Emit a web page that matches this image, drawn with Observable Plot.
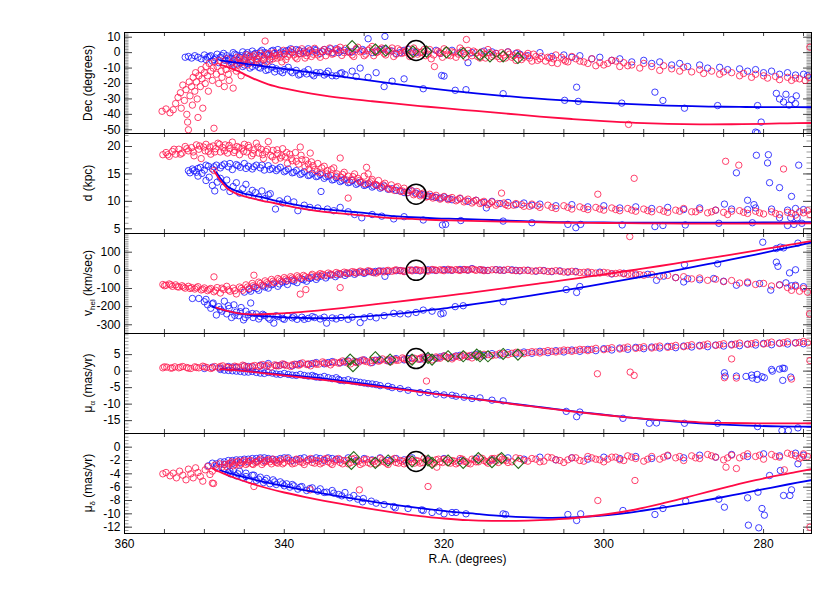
<!DOCTYPE html>
<html><head><meta charset="utf-8">
<script src="https://cdn.jsdelivr.net/npm/d3@7"></script>
<script src="https://cdn.jsdelivr.net/npm/@observablehq/plot@0.6"></script>
<style>
body{margin:0;background:#fff;}
#chart{position:relative;width:830px;height:593px;overflow:hidden;background:#fff;font-family:"Liberation Sans",Arial,Helvetica,sans-serif;color:#000;}
.panel{position:absolute;left:0;}
.ylab{position:absolute;font-size:12px;line-height:1;white-space:nowrap;transform:translate(-50%,-50%) rotate(-90deg);}
.ylab sub{font-size:8px;vertical-align:-3px;line-height:0;}
.xlab{position:absolute;font-size:12px;line-height:14px;white-space:nowrap;transform:translateX(-50%);}
</style></head>
<body><div id="chart"></div>
<script>
// ---- axis / tick data ----
const raDomain = [360, 274];
const raTickLabels = [360, 340, 320, 300, 280];
const raMinorTicks = [360,355,350,345,340,335,330,325,320,315,310,305,300,295,290,285,280,275];
const decTicks = [10, 0, -10, -20, -30, -40, -50];
const distTicks = [20, 15, 10, 5];
const vhelTicks = [100, 0, -100, -200, -300];
const pmraTicks = [5, 0, -5, -10, -15];
const pmdecTicks = [0, -2, -4, -6, -8, -10, -12];
const yLabels = ["Dec (degrees)", "d (kpc)", "v<sub>hel</sub> (km/sec)", "&mu;<sub>&alpha;</sub> (mas/yr)", "&mu;<sub>&delta;</sub> (mas/yr)"];
const xLabel = "R.A. (degrees)";

// ---- reference marker (black circle) ----
const circleRA = 323.5;
const circleVals = [1.4, 11.3, 0, 3.8, -2.15];

// ---- Panel 1: Dec ----
const decRed = [[355.3,-38],[354.8,-36.5],[354.3,-39],[353.9,-37],[353.6,-33],[353.3,-29],[353.0,-26],[352.9,-36],[352.7,-21],[352.5,-31],[352.3,-24],[352.2,-40],[352.1,-45],[352.0,-50],[351.9,-19],[351.8,-28],[351.6,-22],[351.5,-34],[351.4,-16],[351.2,-25],[351.1,-13],[351.0,-19],[350.9,-30],[350.8,-42],[350.7,-15],[350.5,-22],[350.4,-11],[350.3,-17],[350.2,-36],[350.0,-13],[349.9,-20],[349.8,-9],[349.6,-15],[349.5,-25],[349.4,-7],[349.2,-12],[349.0,-18],[348.9,-10],[348.8,-49],[348.7,-6],[348.5,-14],[348.4,-9],[348.2,-20],[348.1,-5],[347.9,-12],[347.8,-16],[347.6,-8],[347.5,-22],[347.3,-11],[347.2,-4],[347.0,-14],[346.9,-18],[346.7,-7],[346.5,-10],[346.4,-23],[346.2,-5],[346.0,-12],[345.8,-8],[345.6,-4],[345.4,-15],
[345.2,-6],[344.9,-3.5],[344.6,-8],[344.3,-2.5],[344.0,-5],[343.7,-1.5],[343.4,-4],[343.1,-7],[342.8,-2],[342.5,-3.5],[342.4,7.5],[342.1,-1],[341.8,-5],[341.5,-2.5],[341.2,0],[340.9,-3.5],[340.6,-1.5],[340.3,-6],[340.0,-0.5],[339.6,-2.5],[339.2,0.5],[338.8,-1.5],[338.4,-4],[338.0,1],[337.6,-0.5],[337.2,-2],[336.8,1.5],[336.4,-1],[336.0,0],[335.5,-3],[335.0,2],[334.5,0.5],[334.0,-1],[333.5,1.5],[333.0,3.5],[332.5,0],[332.0,1],[331.5,-1.5],[331.0,2.5],[330.5,0.5],[330.0,-2],[329.5,1.5],[329.0,4],[328.5,0],[328.0,2],[327.5,-0.5],[327.0,1],[326.5,3],[326.0,-1],[325.5,1.5],[325.0,0],[324.5,2.5],[324.0,-1.5],[323.5,1],[323.0,0],[322.5,2],[322.0,-1],[321.6,-4],[321.2,-9],[320.8,1],[320.4,-0.5],[320.0,2.5],[319.5,-1.5],[319.0,0.5],[318.5,-3],[318.0,3],[317.5,-0.5],[317.2,8.5],[317.0,1.5],[316.5,-2],[316.0,0],[315.5,-3.5],[315.0,-1],[314.5,2],[314.0,-2.5],[313.5,-0.5],[313.0,-4],[312.5,-1.5],[312.0,0.5],[311.5,-3],[311.0,-5],[310.5,-1.5],[310.0,-3],[309.5,-0.5],[309.0,-5.5],[308.5,-2.5],[308.0,-4],[307.0,-3],[306.5,-6.5],[306.0,-1.5],[305.0,-4.5],[304.5,-6],[304.0,-2.5],[303.0,-5.5],[302.0,-7],[301.5,-4],[300.5,-6.5],[300.0,-8],[299.0,-5],[298.0,-9],[297.5,-6.5],[296.9,-46.5],[296.5,-8],[295.5,-10],[295.0,-7],[294.0,-9],[293.0,-11.5],[292.5,-8.5],[291.5,-10.5],[290.5,-12],[290.0,-9.5],[289.0,-12.5],[288.0,-11],[287.5,-13.5],[286.5,-12],[285.5,-14],[285.0,-12.5],[284.0,-13],[283.0,-15],[282.5,-13.5],[281.5,-16],[281.0,-14],[280.0,-15],[279.5,-16.5],[278.5,-15.5],[278.0,-17.5],[277.0,-16],[276.5,-18],[276.0,-16.5],[275.5,-17],[274.8,-18],[274.3,-16],[274.2,3.5]];
const decRedDense = [[345.9,-3],[345.5,-7],[345.1,-4.5],[344.7,-1.5],[344.2,-6.5],[343.9,-2.8],[343.5,-5.5],[343.0,-0.5],[342.6,-4.5],[342.2,-6],[341.9,-0.5],[341.4,-4],[341.0,-1.8],[340.5,-3],[340.1,1.5],[339.8,-4.5],[339.4,-1],[339.0,2],[338.6,-3],[338.2,-0.8],[337.8,2.5],[337.4,-3.5],[337.0,0.5],[336.6,-2.5],[336.2,2.8],[335.8,-1.5],[335.3,1],[334.8,-2],[334.3,3],[333.8,-0.5],[333.3,2],[332.8,-1.8],[332.3,2.8],[331.8,0],[331.3,-2.5],[330.8,3.5],[330.3,1],[329.8,-1],[329.3,2.5],[328.8,-2],[328.3,0.5],[327.8,3],[327.3,-1.5],[326.8,1.5],[326.3,-2.5],[325.8,2.5],[325.3,-0.5],[324.8,1],[324.3,-2.5],[323.8,3],[323.3,-1],[322.8,0.5],[322.3,-2],[321.8,2],[321.3,-1.5],[320.6,0],[320.2,-3],[319.7,1.5],[319.2,-2],[318.7,0],[318.2,-1],[317.7,1.5],[317.3,-3],[316.8,-0.5],[316.3,1],[315.8,-2.5],[315.3,0.5],[314.8,-3.5],[314.3,0],[313.8,-1.5],[313.3,-2.5],[312.8,0],[312.3,-3.5],[311.8,-1],[311.3,-2],[310.8,0],[310.3,-4.5],[309.8,-2],[309.3,-3.5],[308.8,-1],[308.3,-5],[307.8,-2.5],[307.3,-5.5],[306.8,-3.5],[306.3,-4],[305.8,-7],[305.3,-3],[304.8,-5.5],[303.5,-4],[302.5,-6],[301.0,-8.5],[299.5,-7],[298.5,-5.5],[297.0,-8.5]];
const decBlue = [[352.4,-3],[352.0,-2.5],[351.6,-3.5],[351.2,-2],[350.8,-3],[350.4,-4],[350.0,-1.5],[349.6,-3],[349.2,-2],[348.8,-4.5],[348.4,-1],[348.0,-3],[347.6,-0.5],[347.2,-2],[346.8,-4],[346.4,0],[346.0,-1.5],[345.6,-3],[345.2,0.5],[344.8,-1],[344.4,-2.5],[344.0,1],[343.6,-0.5],[343.2,-2],[342.8,1.5],[342.4,0],[342.0,-1.5],[341.6,1],[341.2,-0.5],[340.8,2],[340.4,0.5],[340.0,-1],[339.5,1.5],[339.0,0],[338.5,2],[338.0,-0.5],[337.5,1],[337.0,2.5],[336.5,0.5],[336.0,1.5],[335.5,-0.5],[335.0,2],[334.5,1],[334.0,0],[333.5,2.5],[333.0,1],[332.0,0.5],[331.0,2],[330.5,-10],[330.0,1],[329.5,9],[329.0,0],[328.0,2],[327.4,10.5],[327.0,1],[326.0,-0.5],[325.0,1.5],[324.0,0.5],[322.0,1],[320.5,-0.5],[319.0,1.5],[317.0,-6.5],[316.5,0],[315.0,1],[313.5,-0.5],[312.0,0.5],[310.5,-1],[309.5,-2],[308.0,0],[306.5,-2.5],[305.0,-1.5],[304.0,-3],[303.0,-2],[301.5,-4],[300.5,-3],[299.0,-5],[298.0,-4],[296.5,-6],[295.0,-5],[294.0,-7],[293.0,-6],[291.5,-8],[290.5,-7],[289.5,-9],[288.0,-8],[287.0,-10],[285.5,-9.5],[284.5,-11],[283.0,-10.5],[282.0,-12],[281.0,-11],[280.0,-13],[279.0,-12],[278.0,-14],[277.0,-13],[276.0,-14.5],[275.0,-14],[274.5,-15],
[349.0,-5.5],[348.2,-6.5],[347.4,-5],[346.6,-6.8],[345.8,-5.2],[345.0,-6],[344.2,-4.8],[343.4,-6.3],[342.6,-5],[341.8,-4.2],
[347.0,-5],[346.5,-6],[346.0,-7.5],[345.5,-6.5],[345.0,-8],[344.5,-7],[344.0,-9],[343.5,-8],[343.0,-10],[342.5,-8.5],[342.0,-11],[341.5,-9.5],[341.0,-10.5],[340.5,-12],[340.0,-11],[339.5,-9.5],[339.0,-13],[338.5,-11.5],[338.0,-14],[337.5,-12.5],[337.0,-11],[336.5,-14],[336.0,-13],[335.0,-14.5],[334.5,-12],[334.0,-15],[333.0,-13.5],[332.4,-14.3],[331.5,-12],[331.0,-15.5],[329.5,-16],[328.5,-13],[327.5,-22],[326.5,-18.5],[325.0,-17],[322.6,-23.4],[320.3,-14.8],[320.0,-15.2],[318.6,-24.4],[317.25,-24],[312.6,-26.6],[304.9,-30.9],[303.4,-22.4],[303.2,-31.6],[297.75,-32.7],[293.6,-25.6],[292.6,-31],[289.9,-36],[285.75,-34.3],[281.0,-51.5],[280.8,-52],[280.3,-45],[280.75,-34.3],[278.4,-26.4],[278.0,-30],[277.5,-32],[277.2,-27],[276.8,-34],[276.5,-30.5],[276.0,-33],[275.9,-28]];
const decBlueDense = [[349.8,-4.5],[349.4,-2.5],[348.6,-3.5],[347.8,-2],[347.0,-3.5],[346.2,-1],[345.4,-2],[344.6,0],[343.8,-1],[343.0,0.5],[342.2,-0.5],[341.4,1.5],[340.6,-0.5],[339.8,1],[339.2,2.5],[338.2,1.5],[337.2,0],[336.2,2],[335.2,0.5],[334.2,2.5],[333.2,0],[332.5,1.5],[331.5,0.5],[330.2,2],[328.5,1],[327.5,2.5],[326.5,1],[325.5,0],[324.5,2],[323.5,0],[321.0,1.5],[318.0,0],[314.0,0.5],[311.0,-0.5],[346.3,-8],[345.2,-9],[344.3,-10],[343.2,-9.5],[342.3,-11.5],[341.2,-12.5],[340.2,-13],[339.2,-12],[338.2,-14.5],[337.2,-13.8],[336.3,-15],[335.5,-13],[334.7,-13.5],[333.5,-15],[332.8,-13]];
const decLineBlue = [[348,-5],[347,-5.8],[345,-7.1],[343,-8.5],[340,-10.5],[337,-12.6],[334,-14.7],[331,-16.8],[328,-18.9],[325,-21],[322,-23],[319,-24.8],[316,-26.4],[313,-27.8],[310,-29.1],[307,-30.3],[304,-31.3],[301,-32.2],[298,-33],[295,-33.7],[292,-34.3],[289,-34.7],[286,-35],[283,-35.2],[280,-35.3],[277,-35.35],[274,-35.4]];
const decLineRed = [[348,-8],[347,-9.5],[346,-11.5],[344,-16.5],[342,-20.5],[340,-23.2],[338,-25.3],[335,-27.8],[332,-29.8],[329,-31.5],[326,-33.1],[323,-34.6],[320,-36],[316,-37.8],[312,-39.6],[308,-41.4],[304,-43],[300,-44.4],[296,-45.5],[292,-46.2],[288,-46.5],[284,-46.4],[280,-46.1],[277,-45.8],[274,-45.6]];
const decDiamonds = [[331.5,4.2],[328.6,2.0],[327.3,1.4],[323.9,0.7],[322.2,0.7],[319.7,0.2],[317.6,-0.4],[315.5,-1.5],[314.25,-2.4],[312.6,-2.4],[310.75,-3.5]];

// ---- Panel 2: distance ----
const distRed = [[355.2,18.5],[354.8,18.9],[354.4,18.2],[354.0,19.1],[353.6,18.6],[353.2,19.5],[352.8,18.8],[352.4,20.0],[352.0,19.2],[351.6,19.8],[351.3,18.3],[351.0,20.3],[350.7,19.5],[350.4,17.8],[350.1,19.9],[349.8,20.4],[349.5,19.1],[349.2,18.6],[348.9,20.1],[348.6,19.6],[348.3,20.6],[348.0,19.0],[347.7,19.8],[347.4,20.3],[347.1,18.8],[346.8,19.6],[346.5,20.8],[346.2,19.3],[345.9,20.0],[345.6,18.5],[345.3,19.7],[345.0,20.4],[344.7,19.0],[344.4,19.8],[344.1,18.3],[343.8,19.4],[343.5,20.6],[343.2,18.8],[342.9,19.5],[342.6,17.8],[342.3,19.1],[342.0,20.9],[341.7,18.4],[341.4,19.3],[341.1,17.5],[340.8,18.7],[340.5,17.9],[340.2,19.6],[339.9,18.1],[339.6,16.9],[339.3,18.6],[339.0,17.4],[338.6,18.9],[338.2,16.8],[338.0,19.9],[337.8,17.6],[337.4,16.3],[337.0,16.8],[336.75,18.8],[336.6,17.2],[336.2,15.8],[335.8,16.9],[335.4,15.2],[335.0,16.4],[334.6,15.6],[334.2,14.8],[333.8,16.1],[333.4,15.0],[333.0,17.9],[332.9,14.4],[332.5,15.3],[332.0,10.6],[332.0,14.6],[331.6,13.9],[331.2,15.0],[330.8,14.2],[330.4,13.5],[330.0,14.6],[329.7,16.2],[329.5,15.0],[329.3,13.4],[329.0,14.0],[328.6,13.1],[328.2,13.8],[327.8,12.6],[327.4,13.3],[327.0,12.4],[326.6,13.0],[326.2,12.0],[325.8,12.7],[325.4,11.8],[325.0,12.4],[324.6,11.6],[324.2,12.1],[323.8,11.2],[323.4,11.8],[323.0,11.0],[322.6,11.5],[322.2,10.8],[321.8,11.3],[321.4,10.6],[321.0,11.1],[320.5,10.4],[320.0,10.9],[319.5,10.3],[319.0,10.7],[318.5,10.1],[318.0,10.6],[317.5,9.9],[317.0,10.4],[316.5,9.7],[316.0,10.2],[315.5,9.6],[315.0,10.0],[314.5,9.4],[314.0,9.9],[313.5,9.3],[312.8,11.5],[312.5,9.7],[312.0,9.2],[311.0,9.6],[310.0,9.1],[309.0,9.5],[308.0,8.9],[307.0,9.3],[306.0,8.7],[305.0,9.2],[304.0,8.6],[303.0,9.0],[302.0,8.5],[301.0,8.9],[300.75,11.3],[300.0,8.4],[299.0,8.8],[298.0,8.3],[297.0,8.7],[296.2,14.2],[296.0,8.2],[295.0,8.6],[294.0,8.1],[293.0,8.5],[292.0,8.0],[291.0,8.4],[290.0,8.7],[289.0,8.1],[288.0,8.5],[287.0,7.9],[286.0,8.4],[285.0,8.0],[284.75,17.3],[284.5,7.6],[283.1,16.6],[283.0,8.3],[282.0,7.8],[281.0,8.2],[280.0,7.7],[279.0,8.1],[278.0,7.6],[277.5,15.9],[277.0,8.0],[276.0,7.5],[275.0,7.9],[274.5,8.3],[274.2,7.6],[348.8,15.6]];
const distRedDense = [[354.6,18.5],[353.8,19.5],[353.0,18.6],[352.2,19.6],[351.4,19.0],[350.6,20.1],[349.9,19.2],[349.3,19.9],[348.7,19.0],[348.1,20.4],[347.5,19.2],[346.9,20.2],[346.3,18.9],[345.7,19.8],[345.1,19.1],[344.5,20.2],[343.9,18.7],[343.3,19.9],[342.7,18.5],[342.1,19.5],[341.5,18.1],[340.9,19.4],[340.3,18.3],[339.7,18.9],[339.1,17.8],[338.5,17.3],[337.9,18.4],[337.3,17.5],[336.9,15.9],[336.4,16.5],[335.9,15.4],[335.3,16.1],[334.7,15.0],[334.1,15.8],[333.5,14.6],[332.7,14.9],[332.2,13.9],[331.4,14.5],[330.6,13.8],[329.9,13.2],[329.1,13.7],[328.4,12.9],[327.6,13.0],[326.8,12.2],[326.0,12.5],[325.2,11.9],[324.4,12.0],[323.6,11.4],[322.8,11.3],[322.0,10.9],[321.2,10.8],[320.3,10.6],[319.3,10.5],[318.3,10.3],[317.3,10.1],[316.3,10.0],[315.3,9.8],[314.3,9.6],[313.3,9.6],[312.3,9.4],[311.3,9.3],[310.3,9.4],[309.3,9.1],[308.3,9.2],[306.5,8.9],[304.5,8.9],[302.5,8.7],[300.5,8.6],[298.5,8.5],[296.5,8.4],[294.5,8.3],[292.5,8.2],[290.5,8.2],[288.5,8.1],[286.5,8.1],[284.0,8.2],[282.5,8.0],[280.5,7.9],[278.5,7.8],[276.5,7.8],[275.5,8.1]];
const distBlue = [[352.0,15.6],[351.5,15.9],[351.0,15.3],[350.5,16.2],[350.0,15.7],[349.5,16.4],[349.0,15.9],[348.5,16.6],[348.0,16.1],[347.5,16.8],[347.0,16.3],[346.5,15.8],[346.0,16.7],[345.5,16.2],[345.0,16.9],[344.5,16.4],[344.0,15.9],[343.5,16.6],[343.0,16.1],[342.5,15.7],[342.0,16.5],[341.5,16.0],[341.0,15.6],[340.5,16.2],[340.0,15.4],[339.5,15.9],[339.0,15.2],[338.5,15.6],[338.0,14.9],[337.5,15.4],[337.0,14.7],[336.5,15.1],[336.0,14.5],[335.5,14.9],[335.0,14.2],[334.5,14.6],[334.0,13.9],[333.5,14.3],[333.0,13.6],[332.5,14.0],[332.0,13.4],[331.5,13.8],[331.0,13.1],[330.5,13.5],[330.0,12.9],[329.5,13.2],[329.0,12.6],[328.5,13.0],[328.0,12.4],[327.5,12.8],[327.0,12.2],[326.0,12.0],[325.0,11.6],[324.0,11.9],[323.0,11.3],[322.0,11.0],[321.0,10.7],[320.0,10.8],[319.0,10.3],[318.0,10.5],[317.0,10.0],[316.0,10.2],[315.0,9.8],[314.0,10.0],[313.0,9.6],[312.0,9.8],[311.0,9.4],[310.0,9.7],[309.0,9.3],[308.0,9.5],[306.0,9.2],[304.0,9.4],[302.0,9.0],[300.0,9.2],[298.0,8.8],[296.0,9.0],[294.0,8.7],[292.0,8.9],[290.0,8.5],[288.0,8.8],[286.0,8.4],[284.9,9.5],[284.0,8.6],[283.4,15.2],[282.0,10.2],[282.0,8.5],[281.2,9.4],[281.0,8.8],[280.9,18.4],[279.5,17.0],[279.4,18.5],[279.25,13.4],[279.0,8.6],[278.0,12.5],[277.0,8.4],[276.5,10.9],[276.0,8.7],[275.6,16.6],[275.0,8.5],
[351.3,15.6],[350.8,14.6],[350.3,15.1],[349.8,13.8],[349.4,14.4],[349.0,12.9],[348.7,11.9],[348.4,13.5],[348.0,14.2],[347.6,12.6],[347.2,13.9],[346.8,11.8],[346.4,12.7],[346.0,13.4],[345.6,11.5],[345.2,12.3],[344.8,13.1],[344.4,11.2],[344.0,12.0],[343.6,11.6],[343.2,10.8],[342.8,11.9],[342.4,10.5],[342.0,11.2],[341.75,11.4],[341.1,8.6],[340.6,10.1],[340.2,9.7],[339.6,10.4],[338.8,9.9],[338.3,8.3],[337.5,9.3],[336.8,8.9],[335.8,8.8],[335.4,11.8],[334.6,8.6],[333.8,8.3],[333.0,8.9],[332.0,8.1],[331.2,7.6],[330.3,7.0],[329.0,7.6],[327.8,7.3],[326.3,6.8],[325.0,7.2],[322.6,6.6],[320.2,5.7],[319.8,5.8],[317.9,6.5],[314.7,8.8],[312.6,6.4],[309.0,6.1],[304.5,5.8],[303.5,5.2],[302.9,5.8],[297.7,5.7],[293.6,5.4],[292.6,5.6],[289.8,5.7],[285.6,6.0],[281.4,6.1],[278.0,7.0],[277.0,5.6],[276.6,7.0],[276.2,5.8],[275.8,7.0],[275.2,6.0]];
const distBlueDense = [[351.8,15.2],[350.8,16.0],[349.8,16.6],[348.8,16.3],[347.8,16.5],[346.8,16.9],[345.8,16.5],[344.8,16.0],[343.8,16.3],[342.8,16.6],[341.8,15.8],[340.8,15.9],[339.8,15.6],[338.8,15.3],[337.8,15.1],[336.8,14.8],[335.8,14.6],[334.8,14.5],[333.8,14.0],[332.8,13.8],[331.8,13.5],[330.8,13.3],[329.8,13.0],[328.8,12.8],[327.8,12.6],[326.5,12.3],[325.5,11.9],[324.5,11.6],[323.5,11.5],[322.5,11.2],[321.5,10.9],[320.5,10.6],[319.5,10.5]];
const distLineBlue = [[348.5,15.3],[348,14.2],[347,12.6],[346,11.9],[345,11.4],[343,10.8],[341,10.1],[339,9.5],[337,9.0],[335,8.6],[333,8.3],[330,7.9],[327,7.4],[324,7.1],[321,6.9],[318,6.8],[314,6.6],[310,6.4],[305,6.2],[300,6.15],[295,6.1],[290,6.1],[285,6.1],[280,6.15],[274,6.2]];
const distLineRed = [[348.8,15.6],[348,13.8],[347,12.2],[346,11.4],[345,10.9],[343,10.2],[341,9.6],[339,9.0],[337,8.5],[335,8.1],[333,7.8],[330,7.4],[327,7.0],[324,6.8],[321,6.6],[318,6.5],[314,6.35],[310,6.25],[305,6.1],[300,6.05],[295,6.0],[290,5.95],[285,5.95],[280,5.95],[274,6.0]];

// ---- Panel 3: heliocentric velocity ----
const vhelRed = [[355.2,-78],[354.8,-82],[354.4,-75],[354.0,-88],[353.6,-80],[353.2,-92],[352.8,-85],[352.4,-98],[352.0,-88],[351.6,-95],[351.2,-103],[350.8,-90],[350.4,-108],[350.0,-97],[349.6,-112],[349.2,-100],[348.8,-36],[348.8,-118],[348.4,-95],[348.0,-125],[347.6,-105],[347.2,-88],[346.8,-115],[346.4,-98],[346.0,-130],[345.6,-92],[345.2,-110],[344.8,-80],[344.4,-100],[344.0,-72],[343.8,-27],[343.6,-90],[343.2,-65],[342.8,-82],[342.4,-58],[342.0,-75],[341.6,-50],[341.2,-68],[340.8,-45],[340.4,-60],[340.0,-40],[339.6,-55],[339.2,-35],[338.8,-50],[338.4,-30],[338.0,-131],[338.0,-45],[337.6,-28],[337.3,-106],[337.0,-40],[336.5,-22],[336.0,-35],[335.5,-18],[335.0,-30],[334.5,-15],[334.0,-25],[333.5,-12],[333.0,-95],[333.0,-22],[332.5,-10],[332.0,-18],[331.5,-7],[331.0,-15],[330.5,-4],[330.0,-12],[329.5,-2],[329.0,-10],[328.5,-15],[328.0,-3],[327.5,-8],[327.0,0],[326.5,-5],[326.0,3],[325.5,-2],[325.0,-7],[324.5,1],[324.0,-3],[323.5,4],[323.0,-1],[322.5,2],[322.0,-4],[321.5,5],[321.0,0],[320.5,3],[320.0,-2],[319.5,6],[319.0,1],[318.5,4],[318.0,-1],[317.5,5],[317.0,2],[316.5,7],[316.0,0],[315.5,4],[315.0,-2],[314.0,3],[313.0,0],[312.0,5],[311.0,-2],[310.0,1],[309.0,-4],[308.0,0],[307.0,-6],[306.0,-2],[305.0,-9],[304.0,-5],[303.0,-12],[302.0,-8],[301.0,-15],[300.0,-11],[299.0,-18],[298.0,-14],[297.0,-22],[296.75,186],[296.0,-19],[295.0,-27],[294.0,-23],[293.0,-33],[292.0,-28],[291.0,-40],[290.0,-35],[289.0,-47],[288.0,-42],[287.0,-55],[286.0,-49],[285.0,-62],[284.0,-56],[283.0,-70],[282.0,-64],[281.0,-78],[280.0,-72],[279.0,-86],[278.0,-80],[277.0,-95],[276.5,-110],[276.0,-88],[275.5,-115],[275.0,-100],[274.5,-120],[274.25,-240]];
const vhelRedDense = [[355.0,-85],[354.2,-80],[353.4,-90],[352.6,-92],[351.8,-100],[351.0,-96],[350.2,-104],[349.4,-105],[348.6,-110],[347.8,-98],[347.0,-108],[346.2,-112],[345.4,-100],[344.6,-92],[343.9,-85],[343.0,-72],[342.2,-68],[341.4,-60],[340.6,-52],[339.8,-48],[339.0,-42],[338.2,-38],[337.4,-35],[336.6,-30],[335.8,-26],[335.2,-22],[334.2,-20],[333.2,-17],[332.2,-13],[331.2,-10],[330.2,-8],[329.2,-6],[328.2,-8],[327.2,-3],[326.2,-1],[325.2,-2],[324.2,2],[323.2,1],[322.2,-1],[321.2,3],[320.2,1],[319.2,3],[318.2,2],[317.2,3],[316.2,4],[315.2,2],[314.5,0],[313.5,3],[312.5,1],[311.5,0],[310.5,-1],[309.5,-1],[308.5,-3],[307.5,-3],[306.5,-5],[305.5,-5],[304.5,-8],[303.5,-9],[302.5,-11],[301.5,-12],[300.5,-15],[299.5,-14],[298.5,-17],[297.5,-19],[296.5,-22],[295.5,-24]];
const vhelBlue = [[345.0,-120],[344.4,-105],[343.8,-95],[343.2,-110],[342.6,-85],[342.0,-98],[341.4,-75],[340.8,-88],[340.2,-65],[339.6,-78],[339.0,-55],[338.4,-68],[337.8,-48],[337.2,-60],[336.6,-40],[336.0,-50],[335.4,-32],[334.8,-42],[334.2,-25],[333.6,-35],[333.0,-20],[332.4,-28],[331.8,-15],[331.2,-22],[330.6,-10],[330.0,-17],[329.4,-7],[328.8,-13],[328.2,-4],[327.4,-33],[327.0,-8],[326.0,-2],[325.0,-5],[324.0,1],[323.0,-3],[322.0,3],[321.0,-1],[320.0,4],[319.0,0],[318.0,5],[317.0,1],[316.5,10],[315.5,3],[314.5,-1],[313.5,4],[312.5,0],[311.5,3],[310.5,-3],[309.5,1],[308.5,-5],[307.5,-1],[306.5,-7],[305.5,-3],[304.5,-10],[303.5,-6],[302.0,-14],[300.5,-10],[299.0,-20],[297.5,-16],[296.0,-26],[294.5,-22],[293.4,-55],[292.5,-32],[291.0,-40],[290.0,-64],[289.5,-46],[288.0,-52],[286.25,-45],[285.0,-60],[283.4,-82],[282.0,-70],[280.5,-73],[279.1,-109],[278.0,-80],[277.2,-69],[276.5,-85],[276.0,-82],[275.0,-90],
[351.5,-155],[350.7,-155],[350.0,-173],[349.6,-190],[349.2,-209],[348.9,-180],[348.5,-246],[348.2,-200],[347.8,-225],[347.5,-170],[347.2,-240],[346.9,-210],[346.6,-260],[346.3,-190],[346.0,-230],[345.7,-250],[345.4,-205],[345.1,-273],[344.8,-225],[344.5,-245],[344.2,-180],[343.9,-260],[343.5,-240],[343.0,-255],[342.5,-248],[342.0,-262],[341.3,-291],[340.8,-255],[340.2,-265],[339.6,-250],[339.0,-262],[338.4,-270],[337.8,-258],[337.0,-265],[336.2,-260],[335.5,-268],[334.7,-291],[334.0,-262],[332.9,-260],[332.0,-270],[330.5,-288],[329.25,-255],[328.5,-262],[326.3,-237],[324.5,-240],[322.6,-219],[320.4,-240],[320.1,-236],[318.6,-200],[317.6,-195],[312.6,-173],[304.7,-106],[303.4,-122],[303.0,-89],[289.9,31],[285.75,36],[280.1,155],[278.4,45],[278.4,120],[278.2,22],[277.9,128],[277.5,124],[276.75,-14],[276.0,3],[275.7,150]];
const vhelBlueDense = [[349.8,-160],[349.0,-185],[348.0,-215],[347.0,-195],[346.2,-248],[345.5,-228],[344.9,-260],[344.0,-238],[343.2,-268],[342.7,-242],[341.8,-270],[341.0,-250],[340.0,-270],[338.8,-255],[337.5,-270],[336.5,-255],[335.0,-258],[333.5,-268],[331.5,-258],[330.0,-262],[327.5,-250],[325.5,-240],[323.5,-232],[321.5,-225],[344.2,-115],[343.4,-100],[342.4,-92],[341.6,-80],[340.6,-75],[339.8,-62],[338.8,-60],[337.6,-52],[336.8,-45],[335.8,-38],[334.6,-30],[333.4,-25],[332.2,-18],[331.0,-14],[329.8,-10],[328.6,-6],[327.6,-4],[325.5,-1],[323.5,0],[321.5,2],[319.5,2],[317.5,4],[315.0,1],[313.0,2],[311.0,0]];
const vhelLineBlue = [[349,-200],[347.5,-220],[346,-234],[344.4,-245],[342,-254],[340,-259],[338,-262],[335.5,-264],[332,-260],[329,-251],[326,-240],[323,-226],[320,-210],[317,-191],[314,-172],[311,-152],[308,-131],[305,-110],[302,-88],[299,-65],[296,-41],[293,-17],[290,8],[287,34],[284,60],[281,87],[278,115],[276,134],[274,154]];
const vhelLineRed = [[348.5,-205],[347,-225],[345.5,-238],[344,-243],[341,-239],[338,-230],[335,-218],[332,-204],[329,-189],[326,-174],[323,-158],[320,-142],[317,-125],[314,-108],[311,-90],[308,-72],[305,-54],[302,-35],[299,-16],[296,4],[293,24],[290,45],[287,66],[284,87],[281,109],[278,131],[276,146],[274,161]];

// ---- Panel 4: proper motion in RA ----
const pmraRed = [[355.2,1.0],[354.7,1.2],[354.2,0.9],[353.7,1.3],[353.2,1.0],[352.7,1.4],[352.2,1.1],[351.7,0.8],[351.2,1.3],[350.7,1.0],[350.2,1.5],[349.7,1.1],[349.2,0.8],[348.7,1.4],[348.2,1.0],[347.7,1.6],[347.2,1.2],[346.7,0.9],[346.2,1.5],[345.7,1.2],[345.2,1.8],[344.7,1.3],[344.2,1.0],[343.7,1.7],[343.2,1.4],[342.7,2.0],[342.2,1.5],[341.7,1.2],[341.2,1.9],[340.7,1.6],[340.2,2.2],[339.7,1.7],[339.2,1.4],[338.7,2.1],[338.2,1.8],[337.7,2.5],[337.2,2.0],[336.7,1.6],[336.2,2.4],[335.7,2.1],[335.2,2.8],[334.7,2.3],[334.2,1.9],[333.7,2.7],[333.2,2.4],[332.7,3.1],[332.2,2.6],[331.7,2.2],[331.2,3.0],[330.7,2.7],[330.2,3.4],[329.7,2.9],[329.2,2.5],[328.7,3.3],[328.2,3.0],[327.7,3.7],[327.2,3.2],[326.7,2.8],[326.2,3.6],[325.7,3.3],[325.2,4.0],[324.7,3.5],[324.2,3.1],[323.7,3.9],[323.2,3.6],[322.7,4.2],[322.2,-3.0],[322.0,3.8],[321.5,3.4],[321.0,4.3],[320.5,3.9],[320.0,4.6],[319.5,4.1],[319.0,3.7],[318.5,4.5],[318.0,4.2],[317.5,4.9],[317.0,4.4],[316.5,4.0],[316.0,4.8],[315.5,4.5],[315.0,5.1],[314.0,4.7],[313.0,5.4],[312.0,5.0],[311.0,5.7],[310.0,5.3],[309.0,5.9],[308.0,5.5],[307.0,6.2],[306.0,5.8],[305.0,6.4],[304.0,6.0],[303.0,6.6],[302.0,6.2],[301.0,6.9],[300.8,-0.8],[300.0,6.5],[299.0,7.1],[298.0,6.7],[297.0,7.3],[296.7,-0.3],[296.2,-1.3],[296.0,6.9],[295.0,7.4],[294.0,7.0],[293.0,7.6],[292.0,7.2],[291.0,7.8],[290.0,7.4],[289.0,8.0],[288.0,7.6],[287.0,8.2],[286.0,7.8],[285.0,8.3],[284.9,-2.0],[284.0,3.7],[284.0,7.9],[283.4,-2.1],[283.0,8.5],[282.0,8.1],[281.0,8.6],[280.0,8.2],[279.0,8.8],[278.0,8.4],[277.0,8.9],[276.5,-2.4],[276.0,8.5],[275.0,9.0],[274.5,8.6],[274.2,3.2]];
const pmraRedDense = [[355.0,1.3],[354.0,1.0],[353.0,1.2],[352.0,0.9],[351.0,1.1],[350.0,1.3],[349.0,1.0],[348.0,1.4],[347.0,1.1],[346.0,1.3],[345.0,1.5],[344.0,1.5],[343.0,1.6],[342.0,1.8],[341.0,1.6],[340.0,1.9],[339.0,1.9],[338.0,2.0],[337.0,2.2],[336.0,2.1],[335.0,2.5],[334.0,2.5],[333.0,2.7],[332.0,2.9],[331.0,2.6],[330.0,3.1],[329.0,3.2],[328.0,3.2],[327.0,3.5],[326.0,3.3],[325.0,3.7],[324.0,3.8],[323.0,3.9],[322.5,3.6],[321.8,4.1],[320.8,4.0],[319.8,4.4],[318.8,4.2],[317.8,4.6],[316.8,4.7],[315.8,4.6],[314.5,5.0],[313.5,4.9],[312.5,5.3],[311.5,5.4],[310.5,5.5],[309.5,5.6],[308.5,5.8],[307.5,5.9],[306.5,6.0],[305.5,6.1],[304.5,6.3],[303.5,6.3],[302.5,6.5],[301.5,6.6],[299.5,6.8],[297.5,7.0],[295.5,7.1],[293.5,7.3],[291.5,7.5],[289.5,7.7],[287.5,7.9],[285.5,8.0],[283.5,8.2],[281.5,8.3],[279.5,8.5],[277.5,8.6],[275.5,8.7]];
const pmraBlue = [[350.0,0.8],[349.0,1.2],[348.0,0.9],[347.0,1.4],[346.0,1.1],[345.0,1.6],[344.0,1.3],[343.0,1.8],[342.0,2.3],[341.0,1.7],[340.0,2.0],[339.0,1.6],[338.0,2.3],[337.0,2.0],[336.0,2.6],[335.0,2.2],[334.0,2.9],[333.0,2.5],[332.0,3.1],[331.0,2.8],[330.0,3.4],[329.0,2.6],[328.0,3.5],[327.0,3.1],[326.0,3.8],[325.0,3.4],[324.0,4.0],[323.0,3.6],[322.0,4.3],[321.0,3.9],[320.0,4.6],[319.0,4.2],[318.0,4.8],[317.0,4.4],[316.0,5.1],[315.0,4.7],[314.0,5.3],[313.0,4.9],[312.0,5.6],[311.0,5.2],[310.0,5.8],[309.0,5.4],[308.0,6.0],[307.0,5.6],[306.0,6.2],[305.0,5.8],[304.0,6.4],[303.0,6.0],[302.0,6.6],[301.0,6.2],[300.0,6.8],[299.0,6.4],[298.0,7.0],[297.0,6.6],[296.0,7.2],[295.0,6.8],[294.0,7.3],[293.0,7.0],[292.0,7.5],[291.0,7.1],[290.0,7.6],[289.0,7.3],[288.0,7.8],[287.0,7.4],[286.0,7.9],[285.0,7.6],[284.0,8.1],[283.0,7.7],[282.0,8.2],[281.0,7.9],[280.0,8.4],[279.0,8.0],[278.0,8.5],[277.0,8.2],[276.0,8.6],[275.0,8.3],
[348.0,0.5],[347.0,0.2],[346.0,0.0],[345.0,-0.3],[344.0,-0.1],[343.0,-0.6],[342.0,-0.4],[341.0,-0.9],[340.0,-0.7],[339.0,-1.2],[338.0,-1.0],[337.0,-1.5],[336.5,-1.3],[336.0,-1.8],[335.0,-1.6],[334.0,-2.3],[333.5,-2.0],[333.0,-2.8],[332.0,-2.6],[331.0,-3.2],[330.0,-3.6],[329.0,-3.9],[328.0,-4.4],[327.0,-4.6],[325.5,-5.3],[323.0,-6.5],[321.0,-7.0],[319.0,-7.3],[317.5,-7.9],[315.5,-8.1],[312.6,-9.0],[304.7,-12.2],[303.4,-13.8],[303.0,-12.4],[297.6,-14.3],[294.3,-15.8],[293.4,-15.7],[289.9,-15.8],[285.75,-15.8],[280.75,-16.8],[277.7,-18.0],[276.9,-18.0],[275.7,-17.2],
[284.9,-0.5],[284.8,-1.5],[283.4,-1.5],[282.2,-1.6],[281.5,-1.2],[281.4,-2.1],[280.8,-1.0],[280.8,-2.5],[280.2,-1.7],[279.9,-2.0],[279.0,0.5],[278.9,0.0],[278.0,0.6],[277.6,0.9],[277.4,0.8],[277.6,-2.8],[276.6,-1.8]];
const pmraBlueDense = [[346.5,1.2],[344.5,1.4],[342.5,1.5],[340.5,1.8],[338.5,2.0],[336.5,2.3],[334.5,2.6],[332.5,2.8],[330.5,3.1],[328.5,3.3],[326.5,3.5],[324.5,3.8],[322.5,4.0],[320.5,4.3],[318.5,4.6],[316.5,4.8],[347.5,0.3],[346.5,0.1],[345.5,-0.1],[344.5,-0.3],[343.5,-0.4],[342.5,-0.7],[341.5,-0.6],[340.5,-1.0],[339.5,-1.0],[338.5,-1.3],[337.5,-1.3],[336.2,-1.6],[335.5,-1.9],[334.5,-2.0],[333.2,-2.5],[332.5,-2.9],[331.5,-3.0],[330.5,-3.4],[329.5,-3.8],[328.5,-4.1],[326.5,-5.0],[324.5,-5.8],[322.0,-6.5],[320.0,-7.2],[318.5,-7.6],[316.5,-8.3],[314.0,-8.8]];
const pmraLineBlue = [[348,0.6],[345,0.1],[342,-0.6],[339,-1.3],[336,-2.0],[333,-2.9],[330,-3.8],[327,-4.8],[324,-5.8],[321,-6.8],[318,-7.8],[315,-8.7],[312,-9.7],[309,-10.6],[306,-11.5],[303,-12.4],[300,-13.2],[297,-14],[294,-14.7],[291,-15.3],[288,-15.8],[285,-16.2],[282,-16.5],[279,-16.7],[276,-16.8],[274,-16.85]];
const pmraLineRed = [[348,0.6],[345,0.0],[342,-0.8],[339,-1.6],[336,-2.4],[333,-3.3],[330,-4.2],[327,-5.1],[324,-6.0],[321,-7.0],[318,-7.9],[315,-8.8],[312,-9.8],[309,-10.7],[306,-11.6],[303,-12.5],[300,-13.3],[297,-14.0],[294,-14.6],[291,-15.1],[288,-15.5],[285,-15.7],[282,-15.8],[279,-15.85],[276,-15.85],[274,-15.8]];
const pmraDiamonds = [[331.75,3.5],[331.4,1.5],[328.6,4.2],[326.75,3.5],[324,3.5],[322,4.0],[321.5,3.5],[319.5,4.5],[317.6,4.5],[315.9,5.0],[315.5,4.5],[314.5,4.5],[312.6,5.2],[310.75,5.0]];

// ---- Panel 5: proper motion in Dec ----
const pmdecRed = [[355.2,-4.0],[354.8,-3.8],[354.3,-4.3],[353.9,-3.9],[353.5,-4.6],[353.1,-3.6],[352.7,-4.2],[352.3,-4.9],[352.0,-3.3],[351.7,-4.0],[351.4,-4.6],[351.1,-3.1],[350.8,-3.8],[350.5,-4.4],[350.2,-5.1],[349.9,-3.4],[349.6,-2.9],[349.3,-4.1],[349.0,-5.4],[348.85,-5.45],[349.0,-3.6],[348.7,-2.7],[348.4,-3.2],[348.1,-2.5],[347.8,-3.0],[347.5,-2.6],
[347.2,-2.9],[346.8,-2.4],[346.4,-2.8],[346.0,-2.3],[345.6,-2.7],[345.2,-2.2],[344.8,-2.6],[344.4,-2.1],[344.0,-2.5],[343.8,-5.9],[343.6,-2.3],[343.2,-2.0],[342.8,-2.6],[342.4,-2.2],[342.0,-1.9],[341.6,-2.5],[341.2,-2.1],[340.8,-2.4],[340.4,-1.9],[340.0,-2.3],[339.5,-2.0],[339.0,-2.5],[338.5,-1.8],[338.0,-2.2],[337.5,-2.6],[337.0,-1.9],[336.75,-6.4],[336.5,-2.3],[336.0,-2.0],[335.5,-2.5],[335.0,-1.8],[334.5,-2.2],[334.0,-2.6],[333.5,-1.9],[333.0,-2.3],[332.5,-2.0],[332.0,-2.5],[331.5,-1.8],[331.0,-2.2],[330.6,-6.4],[330.5,-2.6],[330.0,-1.9],[329.5,-2.3],[329.0,-2.0],[328.5,-2.5],[328.0,-1.7],[327.5,-2.2],[327.0,-2.6],[326.5,-1.9],[326.0,-2.3],[325.5,-2.0],[325.0,-2.5],[324.5,-1.8],[324.0,-2.2],[323.5,-2.0],[323.0,-2.4],[322.5,-1.7],[322.0,-5.9],[322.0,-2.1],[321.5,-2.5],[321.0,-1.9],[320.9,-3.0],[320.5,-2.2],[320.0,-1.8],[319.5,-2.3],[319.0,-2.0],[318.5,-2.5],[318.0,-1.7],[317.5,-2.1],[317.0,-2.4],[316.5,-1.8],[316.0,-2.2],[315.5,-1.6],[315.0,-2.0],[314.5,-2.4],[314.0,-1.7],[313.5,-2.1],[313.0,-1.5],[312.5,-1.9],[312.0,-2.3],[311.0,-1.6],[310.0,-2.0],[309.0,-1.7],[308.0,-2.2],[307.0,-1.5],[306.0,-1.9],[305.0,-2.3],[304.0,-1.6],[303.0,-2.0],[302.0,-1.4],[301.0,-1.8],[300.75,-8.0],[300.0,-2.2],[299.0,-1.5],[298.0,-1.9],[297.0,-1.3],[296.1,-5.0],[296.0,-1.7],[295.0,-2.1],[294.0,-1.4],[293.0,-1.8],[292.0,-1.2],[291.0,-1.6],[290.0,-2.0],[289.0,-1.3],[288.0,-1.7],[287.0,-1.1],[286.0,-1.5],[285.0,-1.9],[284.7,-3.0],[284.0,-1.2],[283.4,-3.2],[283.0,-1.6],[282.0,-1.0],[281.0,-1.4],[280.0,-1.8],[279.0,-1.1],[278.0,-1.5],[277.4,-3.4],[277.0,-0.9],[276.0,-1.3],[275.5,-1.7],[275.0,-1.0],[274.5,-1.4],[274.2,-12.0]];
const pmdecRedDense = [[347.0,-2.5],[346.6,-2.2],[346.2,-2.6],[345.8,-2.1],[345.4,-2.5],[345.0,-2.0],[344.6,-2.4],[344.2,-2.0],[343.9,-2.6],[343.4,-2.2],[343.0,-1.8],[342.6,-2.3],[342.2,-2.0],[341.8,-2.2],[341.4,-1.8],[341.0,-2.3],[340.6,-2.1],[340.2,-2.5],[339.7,-1.7],[339.2,-2.2],[338.7,-2.4],[338.2,-1.9],[337.7,-2.3],[337.2,-2.1],[336.7,-1.7],[336.2,-2.4],[335.7,-2.1],[335.2,-2.3],[334.7,-1.7],[334.2,-2.4],[333.7,-2.1],[333.2,-1.7],[332.7,-2.5],[332.2,-2.0],[331.7,-2.3],[331.2,-1.7],[330.7,-2.1],[330.2,-2.4],[329.7,-1.8],[329.2,-2.5],[328.7,-2.1],[328.2,-2.3],[327.7,-1.9],[327.2,-2.4],[326.7,-2.1],[326.2,-1.7],[325.7,-2.4],[325.2,-2.1],[324.7,-2.3],[324.2,-1.8],[323.7,-2.4],[323.2,-2.1],[322.7,-2.3],[322.2,-1.9],[321.7,-2.2],[321.2,-2.4],[320.7,-1.8],[320.2,-2.3],[319.7,-1.9],[319.2,-2.4],[318.7,-2.1],[318.2,-2.3],[317.7,-1.8],[317.2,-2.2],[316.7,-2.5],[316.2,-1.9],[315.7,-2.2],[315.2,-1.7],[314.7,-2.2],[314.2,-2.0],[313.7,-1.7],[313.2,-2.3],[312.7,-1.8],[312.2,-2.0],[311.5,-2.2],[310.5,-1.7],[309.5,-2.1],[308.5,-1.8],[307.5,-2.1],[306.5,-1.6],[305.5,-2.0],[304.5,-1.9],[303.5,-1.6],[302.5,-2.1],[301.5,-1.6],[300.5,-1.9],[299.5,-1.8],[298.5,-1.5],[297.5,-2.0],[296.5,-1.5],[294.5,-1.8],[292.5,-1.5],[290.5,-1.4],[288.5,-1.6],[286.5,-1.3],[284.5,-1.6],[282.5,-1.3],[280.5,-1.2],[278.5,-1.4],[276.5,-1.1],[275.2,-1.5]];
const pmdecBlue = [[349.5,-2.8],[349.0,-2.4],[348.5,-2.9],[348.0,-2.2],[347.5,-2.6],[347.0,-2.0],[346.5,-2.4],[346.0,-1.9],[345.5,-2.3],[345.0,-1.8],[344.5,-2.2],[344.0,-1.7],[343.5,-2.1],[343.0,-1.6],[342.5,-2.0],[342.0,-1.7],[341.0,-1.9],[340.0,-1.6],[339.0,-2.0],[338.0,-1.7],[337.0,-1.9],[336.0,-1.6],[335.0,-2.0],[334.0,-1.7],[333.0,-1.9],[332.0,-1.6],[331.0,-2.0],[330.0,-1.7],[329.0,-1.9],[328.0,-1.6],[327.0,-2.0],[326.0,-1.7],[325.0,-1.9],[324.0,-1.6],[322.0,-1.9],[320.0,-1.7],[318.0,-2.0],[316.0,-1.7],[314.0,-1.9],[312.0,-1.6],[310.0,-1.8],[308.0,-1.5],[306.0,-1.9],[304.0,-1.6],[302.0,-1.8],[300.0,-1.5],[298.0,-1.7],[296.0,-1.4],[294.0,-1.7],[292.0,-1.3],[290.0,-1.6],[288.0,-1.2],[286.0,-1.5],[284.0,-1.1],[282.0,-1.4],[280.0,-1.0],[278.0,-1.3],[276.0,-0.9],[275.0,-1.2],
[347.5,-3.2],[347.0,-3.8],[346.75,-4.0],[346.4,-3.4],[346.0,-4.3],[345.6,-3.6],[345.2,-4.6],[344.8,-3.9],[344.4,-4.9],[344.0,-4.2],[343.8,-4.2],[343.5,-5.0],[343.0,-4.5],[342.6,-5.3],[342.2,-4.7],[341.8,-5.5],[341.4,-4.9],[341.0,-5.6],[340.5,-5.2],[340.0,-5.8],[339.7,-5.5],[339.3,-6.0],[338.8,-5.8],[338.3,-6.3],[337.8,-5.9],[337.2,-6.5],[336.5,-6.1],[335.5,-6.25],[335.0,-6.8],[334.7,-6.75],[334.0,-6.5],[333.2,-7.1],[332.4,-6.8],[331.3,-7.25],[330.2,-8.2],[330.1,-7.7],[329.1,-8.1],[326.3,-8.9],[326.1,-9.1],[322.8,-9.4],[322.6,-9.5],[320.6,-9.6],[320.0,-10.0],[319.0,-9.8],[318.5,-9.8],[317.25,-10.0],[312.6,-10.0],[312.3,-10.1],[304.5,-10.1],[303.4,-11.0],[302.9,-10.0],[297.6,-9.5],[293.6,-10.1],[292.6,-9.2],[289.75,-8.1],[285.6,-7.8],[284.9,-9.0],[282.0,-7.6],[281.9,-11.7],[280.7,-6.75],[280.6,-12.1],[280.2,-9.2],[279.9,-10.2],[279.25,-4.25],[277.9,-3.5],[277.5,-7.25],[276.7,-7.25],[276.5,-6.4],[275.7,-2.5]];
const pmdecBlueDense = [[348.5,-2.5],[347.5,-2.2],[346.5,-2.0],[345.5,-1.9],[344.5,-1.8],[343.5,-1.7],[342.5,-1.6],[341.5,-1.8],[340.5,-1.7],[339.5,-1.6],[338.5,-1.9],[337.5,-1.6],[336.5,-1.8],[335.5,-1.7],[334.5,-1.6],[333.5,-1.8],[346.8,-3.6],[345.8,-4.0],[344.8,-4.4],[343.2,-4.8],[342.4,-5.0],[341.2,-5.2],[340.2,-5.5],[339.0,-5.6],[338.0,-6.0],[336.8,-6.2],[335.8,-6.6],[333.8,-6.9],[332.8,-7.3],[331.8,-7.6],[330.8,-7.8],[328.5,-8.4],[327.5,-8.6],[324.5,-9.2],[321.5,-9.8]];
const pmdecLineBlue = [[348,-3.5],[346,-4.2],[344,-4.8],[342,-5.35],[340,-5.85],[337,-6.55],[334,-7.2],[331,-7.8],[328,-8.35],[325,-8.85],[322,-9.3],[319,-9.7],[316,-10.0],[313,-10.3],[310,-10.5],[307,-10.6],[304,-10.55],[301,-10.35],[298,-10.0],[295,-9.5],[292,-8.95],[289,-8.35],[286,-7.7],[283,-7.0],[280,-6.3],[277,-5.6],[274,-4.95]];
const pmdecLineRed = [[349,-3.2],[347.5,-4.0],[346,-4.7],[344,-5.5],[342,-6.2],[340,-6.8],[337.5,-7.45],[335,-8.05],[332,-8.7],[329,-9.3],[326,-9.85],[323,-10.35],[320,-10.7],[317,-10.95],[314,-11.05],[311,-11.05],[308,-10.95],[305,-10.75],[302,-10.4],[299,-9.95],[296,-9.35],[293,-8.55],[290,-7.65],[287,-6.7],[284,-5.8],[281,-4.95],[278,-4.2],[276,-3.75],[274,-3.3]];
const pmdecDiamonds = [[331.3,-1.5],[331.6,-2.5],[328.6,-2.35],[327.0,-2.0],[324.0,-2.15],[322.0,-2.0],[321.5,-2.35],[319.5,-2.0],[317.6,-2.35],[315.7,-1.65],[314.0,-2.25],[312.8,-1.65],[310.7,-2.35]];

// ---- layout ----
const W = 830, frameLeft = 124, frameRight = 811;
const innerW = frameRight - frameLeft;
const RED = "#ff1f52", BLUE = "#1c1cff", LRED = "#ff0a45", LBLUE = "#0000f0", GREEN = "#236b17";
const panels = [
  {top: 32, h: 101, domain: [-52.4, 13.05], majors: decTicks, minors: d3.range(-52, 14, 1), red: decRed.concat(decRedDense), blue: decBlue.concat(decBlueDense), lr: decLineRed, lb: decLineBlue, dia: decDiamonds},
  {top: 133, h: 100, domain: [4.14, 22.37], majors: distTicks, minors: d3.range(5, 23, 1), red: distRed.concat(distRedDense), blue: distBlue.concat(distBlueDense), lr: distLineRed, lb: distLineBlue, dia: null},
  {top: 233, h: 100, domain: [-348, 203], majors: vhelTicks, minors: d3.range(-340, 201, 10), red: vhelRed.concat(vhelRedDense), blue: vhelBlue.concat(vhelBlueDense), lr: vhelLineRed, lb: vhelLineBlue, dia: null},
  {top: 333, h: 100, domain: [-18.9, 11.4], majors: pmraTicks, minors: d3.range(-18, 12, 1), red: pmraRed.concat(pmraRedDense), blue: pmraBlue.concat(pmraBlueDense), lr: pmraLineRed, lb: pmraLineBlue, dia: pmraDiamonds},
  {top: 433, h: 100, domain: [-12.95, 2.05], majors: pmdecTicks, minors: d3.range(-12.5, 2.01, 0.5), red: pmdecRed.concat(pmdecRedDense), blue: pmdecBlue.concat(pmdecBlueDense), lr: pmdecLineRed, lb: pmdecLineBlue, dia: pmdecDiamonds}
];

const chart = document.getElementById("chart");
const X = d => d[0], Y = d => d[1];
panels.forEach((p, i) => {
  const mt = 6, mb = i === 4 ? 40 : 6;
  const last = i === 4;
  const marks = [
    Plot.tickY(p.minors, {y: d => d, stroke: "#9a9a9a", insetRight: innerW - 4.5}),
    Plot.tickY(p.majors, {y: d => d, stroke: "#444", insetRight: innerW - 8}),
    Plot.tickY(p.minors, {y: d => d, stroke: "#9a9a9a", insetLeft: innerW - 4.5}),
    Plot.tickY(p.majors, {y: d => d, stroke: "#444", insetLeft: innerW - 8}),
    Plot.tickX(raMinorTicks, {x: d => d, stroke: "#444", insetBottom: p.h - 4}),
    Plot.tickX(raMinorTicks, {x: d => d, stroke: "#444", insetTop: p.h - 4}),
    Plot.axisY(p.majors, {anchor: "left", tickSize: 0, tickPadding: 4, tickFormat: d => String(d), label: null}),
    Plot.dot(p.blue, {x: X, y: Y, r: 3.2, stroke: BLUE, strokeWidth: 0.85, fill: "none", clip: true}),
    Plot.dot(p.red, {x: X, y: Y, r: 3.2, stroke: RED, strokeWidth: 0.85, fill: "none", clip: true}),
    Plot.line(p.lb, {x: X, y: Y, stroke: LBLUE, strokeWidth: 1.8, curve: "catmull-rom", clip: true}),
    Plot.line(p.lr, {x: X, y: Y, stroke: LRED, strokeWidth: 1.8, curve: "catmull-rom", clip: true}),
    p.dia ? Plot.dot(p.dia, {x: X, y: Y, symbol: "diamond2", r: 5, stroke: GREEN, strokeWidth: 1.1, fill: "none", clip: true}) : null,
    Plot.dot([[circleRA, circleVals[i]]], {x: X, y: Y, r: 10, stroke: "black", strokeWidth: 1.5, fill: "none"}),
    Plot.frame({stroke: "black", strokeWidth: 1})
  ];
  if (last) marks.push(Plot.axisX(raTickLabels, {anchor: "bottom", tickSize: 0, tickPadding: 6, tickFormat: d => String(d), label: null}));
  const svg = Plot.plot({
    width: W, height: mt + p.h + mb,
    marginLeft: frameLeft, marginRight: W - frameRight, marginTop: mt, marginBottom: mb,
    x: {domain: raDomain, axis: null},
    y: {domain: p.domain, axis: null},
    style: {fontFamily: "'Liberation Sans', Arial, Helvetica, sans-serif", fontSize: "12px", color: "black", background: "transparent", overflow: "visible"},
    marks
  });
  svg.classList.add("panel");
  svg.style.top = (p.top - mt) + "px";
  chart.appendChild(svg);
  const lab = document.createElement("div");
  lab.className = "ylab";
  lab.innerHTML = yLabels[i];
  lab.style.left = "88px";
  lab.style.top = (p.top + p.h / 2) + "px";
  chart.appendChild(lab);
});
const xl = document.createElement("div");
xl.className = "xlab";
xl.textContent = xLabel;
xl.style.left = ((frameLeft + frameRight) / 2) + "px";
xl.style.top = "552px";
chart.appendChild(xl);
</script></body></html>
